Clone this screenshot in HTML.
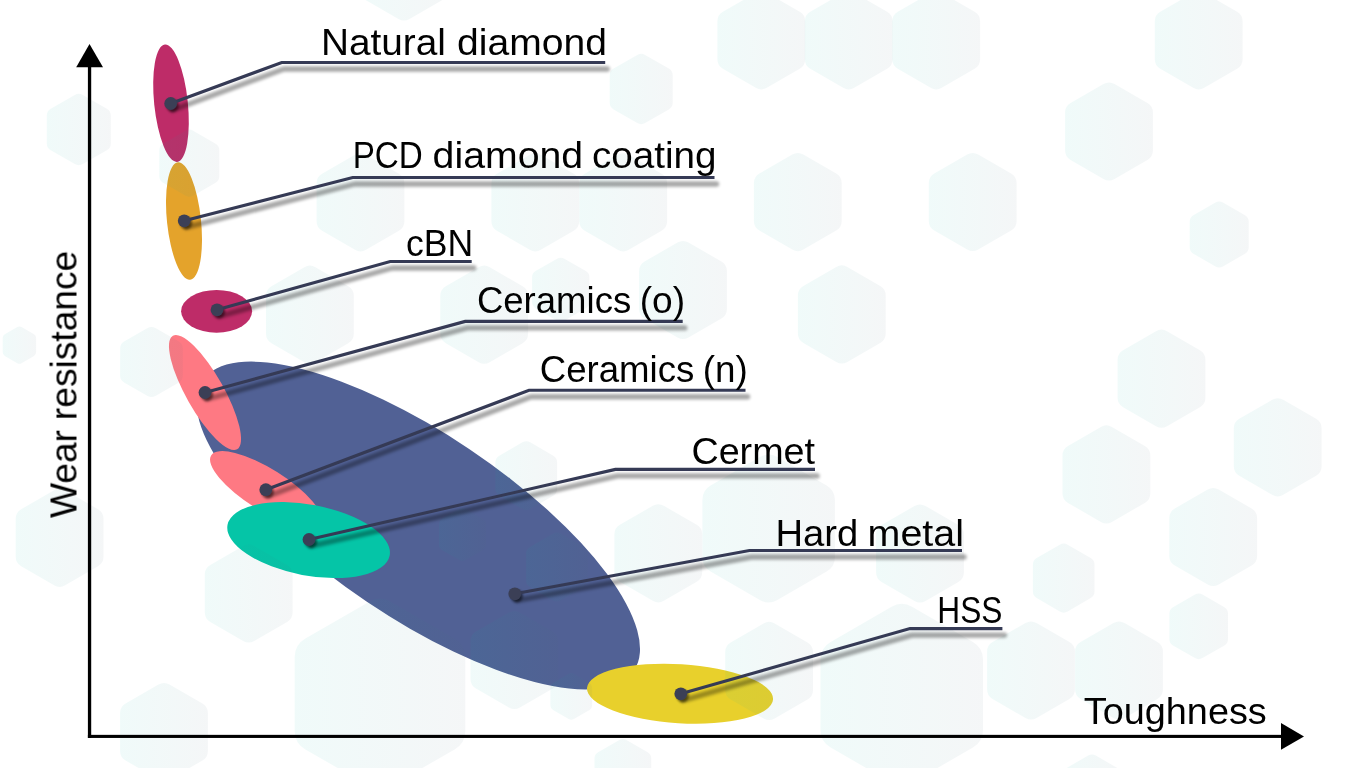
<!DOCTYPE html>
<html lang="en"><head><meta charset="utf-8"><title>Cutting materials: wear resistance vs toughness</title>
<style>html,body{margin:0;padding:0;background:#fff;overflow:hidden}svg{display:block}text{font-family:"Liberation Sans", sans-serif;font-size:36.3px;fill:#000}</style>
</head><body>
<svg width="1366" height="768" viewBox="0 0 1366 768">
<defs>
<linearGradient id="hg" x1="0" y1="0" x2="1" y2="0"><stop offset="0" stop-color="#00b4a5"/><stop offset="1" stop-color="#4c6a79"/></linearGradient>
<filter id="b1" x="-5%" y="-5%" width="110%" height="110%"><feGaussianBlur stdDeviation="1.4"/></filter>
<filter id="b2" x="-5%" y="-5%" width="110%" height="110%"><feGaussianBlur stdDeviation="1"/></filter>
</defs>
<rect width="1366" height="768" fill="#ffffff"/>
<g id="ellipses">
<ellipse cx="171" cy="103.2" rx="16.8" ry="59" fill="#be2c68" transform="rotate(-6 171 103.2)"/>
<ellipse cx="184" cy="221" rx="17" ry="59" fill="#e4a32b" transform="rotate(-6 184 221)"/>
<ellipse cx="216.6" cy="311.3" rx="35.5" ry="21.4" fill="#be2c68" transform="rotate(0 216.6 311.3)"/>
<ellipse cx="418.2" cy="525.5" rx="260" ry="92" fill="#516195" transform="rotate(33.9 418.2 525.5)"/>
<ellipse cx="205" cy="392.5" rx="65.2" ry="18.8" fill="#fe7983" transform="rotate(60.5 205 392.5)"/>
<ellipse cx="266" cy="489.7" rx="64.7" ry="20.9" fill="#fe7983" transform="rotate(32 266 489.7)"/>
<ellipse cx="308.6" cy="540.1" rx="82.5" ry="35.4" fill="#05c5a7" transform="rotate(10.7 308.6 540.1)"/>
<ellipse cx="680" cy="693.7" rx="93.2" ry="29.5" fill="#e8d02c" transform="rotate(3.5 680 693.7)"/>
</g>
<g id="hexes" fill="url(#hg)" fill-opacity="0.058">
<path d="M755.8 -7.2A11.0 11.0 0 0 1 766.8 -7.2L799.7 11.8A11.0 11.0 0 0 1 805.2 21.3L805.2 59.3A11.0 11.0 0 0 1 799.7 68.8L766.8 87.8A11.0 11.0 0 0 1 755.8 87.8L722.9 68.8A11.0 11.0 0 0 1 717.4 59.3L717.4 21.3A11.0 11.0 0 0 1 722.9 11.8Z"/>
<path d="M843.2 -7.2A11.0 11.0 0 0 1 854.2 -7.2L887.1 11.8A11.0 11.0 0 0 1 892.6 21.3L892.6 59.3A11.0 11.0 0 0 1 887.1 68.8L854.2 87.8A11.0 11.0 0 0 1 843.2 87.8L810.3 68.8A11.0 11.0 0 0 1 804.8 59.3L804.8 21.3A11.0 11.0 0 0 1 810.3 11.8Z"/>
<path d="M930.7 -7.2A11.0 11.0 0 0 1 941.7 -7.2L974.6 11.8A11.0 11.0 0 0 1 980.1 21.3L980.1 59.3A11.0 11.0 0 0 1 974.6 68.8L941.7 87.8A11.0 11.0 0 0 1 930.7 87.8L897.8 68.8A11.0 11.0 0 0 1 892.3 59.3L892.3 21.3A11.0 11.0 0 0 1 897.8 11.8Z"/>
<path d="M1193.2 -7.2A11.0 11.0 0 0 1 1204.2 -7.2L1237.1 11.8A11.0 11.0 0 0 1 1242.6 21.3L1242.6 59.3A11.0 11.0 0 0 1 1237.1 68.8L1204.2 87.8A11.0 11.0 0 0 1 1193.2 87.8L1160.3 68.8A11.0 11.0 0 0 1 1154.8 59.3L1154.8 21.3A11.0 11.0 0 0 1 1160.3 11.8Z"/>
<path d="M1103.5 84.0A11.0 11.0 0 0 1 1114.5 84.0L1147.4 103.0A11.0 11.0 0 0 1 1152.9 112.5L1152.9 150.5A11.0 11.0 0 0 1 1147.4 160.0L1114.5 179.0A11.0 11.0 0 0 1 1103.5 179.0L1070.6 160.0A11.0 11.0 0 0 1 1065.1 150.5L1065.1 112.5A11.0 11.0 0 0 1 1070.6 103.0Z"/>
<path d="M792.3 154.6A11.0 11.0 0 0 1 803.3 154.6L836.2 173.6A11.0 11.0 0 0 1 841.7 183.1L841.7 221.1A11.0 11.0 0 0 1 836.2 230.6L803.3 249.6A11.0 11.0 0 0 1 792.3 249.6L759.4 230.6A11.0 11.0 0 0 1 753.9 221.1L753.9 183.1A11.0 11.0 0 0 1 759.4 173.6Z"/>
<path d="M967.2 154.5A11.0 11.0 0 0 1 978.2 154.5L1011.1 173.5A11.0 11.0 0 0 1 1016.6 183.0L1016.6 221.0A11.0 11.0 0 0 1 1011.1 230.5L978.2 249.5A11.0 11.0 0 0 1 967.2 249.5L934.3 230.5A11.0 11.0 0 0 1 928.8 221.0L928.8 183.0A11.0 11.0 0 0 1 934.3 173.5Z"/>
<path d="M1215.5 202.6A7.4 7.4 0 0 1 1222.9 202.6L1245.0 215.3A7.4 7.4 0 0 1 1248.7 221.7L1248.7 247.3A7.4 7.4 0 0 1 1245.0 253.7L1222.9 266.4A7.4 7.4 0 0 1 1215.5 266.4L1193.4 253.7A7.4 7.4 0 0 1 1189.7 247.3L1189.7 221.7A7.4 7.4 0 0 1 1193.4 215.3Z"/>
<path d="M836.3 266.9A11.0 11.0 0 0 1 847.3 266.9L880.2 285.9A11.0 11.0 0 0 1 885.7 295.4L885.7 333.4A11.0 11.0 0 0 1 880.2 342.9L847.3 361.9A11.0 11.0 0 0 1 836.3 361.9L803.4 342.9A11.0 11.0 0 0 1 797.9 333.4L797.9 295.4A11.0 11.0 0 0 1 803.4 285.9Z"/>
<path d="M677.5 242.5A11.0 11.0 0 0 1 688.5 242.5L721.4 261.5A11.0 11.0 0 0 1 726.9 271.0L726.9 309.0A11.0 11.0 0 0 1 721.4 318.5L688.5 337.5A11.0 11.0 0 0 1 677.5 337.5L644.6 318.5A11.0 11.0 0 0 1 639.1 309.0L639.1 271.0A11.0 11.0 0 0 1 644.6 261.5Z"/>
<path d="M1156.0 331.2A11.0 11.0 0 0 1 1167.0 331.2L1199.9 350.2A11.0 11.0 0 0 1 1205.4 359.7L1205.4 397.7A11.0 11.0 0 0 1 1199.9 407.2L1167.0 426.2A11.0 11.0 0 0 1 1156.0 426.2L1123.1 407.2A11.0 11.0 0 0 1 1117.6 397.7L1117.6 359.7A11.0 11.0 0 0 1 1123.1 350.2Z"/>
<path d="M74.8 94.9A8.0 8.0 0 0 1 82.8 94.9L106.8 108.7A8.0 8.0 0 0 1 110.8 115.6L110.8 143.4A8.0 8.0 0 0 1 106.8 150.3L82.8 164.1A8.0 8.0 0 0 1 74.8 164.1L50.8 150.3A8.0 8.0 0 0 1 46.8 143.4L46.8 115.6A8.0 8.0 0 0 1 50.8 108.7Z"/>
<path d="M185.6 130.7A7.5 7.5 0 0 1 193.1 130.7L215.6 143.7A7.5 7.5 0 0 1 219.3 150.2L219.3 176.2A7.5 7.5 0 0 1 215.6 182.7L193.1 195.7A7.5 7.5 0 0 1 185.6 195.7L163.1 182.7A7.5 7.5 0 0 1 159.3 176.2L159.3 150.2A7.5 7.5 0 0 1 163.1 143.7Z"/>
<path d="M355.0 154.8A11.0 11.0 0 0 1 366.0 154.8L398.9 173.8A11.0 11.0 0 0 1 404.4 183.3L404.4 221.3A11.0 11.0 0 0 1 398.9 230.8L366.0 249.8A11.0 11.0 0 0 1 355.0 249.8L322.1 230.8A11.0 11.0 0 0 1 316.6 221.3L316.6 183.3A11.0 11.0 0 0 1 322.1 173.8Z"/>
<path d="M398.5 -76.0A11.0 11.0 0 0 1 409.5 -76.0L442.4 -57.0A11.0 11.0 0 0 1 447.9 -47.5L447.9 -9.5A11.0 11.0 0 0 1 442.4 0.0L409.5 19.0A11.0 11.0 0 0 1 398.5 19.0L365.6 0.0A11.0 11.0 0 0 1 360.1 -9.5L360.1 -47.5A11.0 11.0 0 0 1 365.6 -57.0Z"/>
<path d="M637.3 54.9A7.9 7.9 0 0 1 645.1 54.9L668.8 68.5A7.9 7.9 0 0 1 672.7 75.4L672.7 102.6A7.9 7.9 0 0 1 668.8 109.5L645.1 123.1A7.9 7.9 0 0 1 637.3 123.1L613.6 109.5A7.9 7.9 0 0 1 609.7 102.6L609.7 75.4A7.9 7.9 0 0 1 613.6 68.5Z"/>
<path d="M529.8 154.8A11.0 11.0 0 0 1 540.8 154.8L573.7 173.8A11.0 11.0 0 0 1 579.2 183.3L579.2 221.3A11.0 11.0 0 0 1 573.7 230.8L540.8 249.8A11.0 11.0 0 0 1 529.8 249.8L496.9 230.8A11.0 11.0 0 0 1 491.4 221.3L491.4 183.3A11.0 11.0 0 0 1 496.9 173.8Z"/>
<path d="M617.7 154.8A11.0 11.0 0 0 1 628.7 154.8L661.6 173.8A11.0 11.0 0 0 1 667.1 183.3L667.1 221.3A11.0 11.0 0 0 1 661.6 230.8L628.7 249.8A11.0 11.0 0 0 1 617.7 249.8L584.8 230.8A11.0 11.0 0 0 1 579.3 221.3L579.3 183.3A11.0 11.0 0 0 1 584.8 173.8Z"/>
<path d="M17.3 327.0A4.2 4.2 0 0 1 21.5 327.0L34.0 334.3A4.2 4.2 0 0 1 36.1 337.9L36.1 352.3A4.2 4.2 0 0 1 34.0 355.9L21.5 363.2A4.2 4.2 0 0 1 17.3 363.2L4.8 355.9A4.2 4.2 0 0 1 2.7 352.3L2.7 337.9A4.2 4.2 0 0 1 4.8 334.3Z"/>
<path d="M147.6 328.1A7.8 7.8 0 0 1 155.4 328.1L178.9 341.6A7.8 7.8 0 0 1 182.8 348.4L182.8 375.6A7.8 7.8 0 0 1 178.9 382.4L155.4 395.9A7.8 7.8 0 0 1 147.6 395.9L124.1 382.4A7.8 7.8 0 0 1 120.1 375.6L120.2 348.4A7.8 7.8 0 0 1 124.1 341.6Z"/>
<path d="M304.4 267.2A11.0 11.0 0 0 1 315.4 267.2L348.3 286.2A11.0 11.0 0 0 1 353.8 295.7L353.8 333.7A11.0 11.0 0 0 1 348.3 343.2L315.4 362.2A11.0 11.0 0 0 1 304.4 362.2L271.5 343.2A11.0 11.0 0 0 1 266.0 333.7L266.0 295.7A11.0 11.0 0 0 1 271.5 286.2Z"/>
<path d="M478.7 267.2A11.0 11.0 0 0 1 489.7 267.2L522.6 286.2A11.0 11.0 0 0 1 528.1 295.7L528.1 333.7A11.0 11.0 0 0 1 522.6 343.2L489.7 362.2A11.0 11.0 0 0 1 478.7 362.2L445.8 343.2A11.0 11.0 0 0 1 440.3 333.7L440.3 295.7A11.0 11.0 0 0 1 445.8 286.2Z"/>
<path d="M54.1 490.3A11.0 11.0 0 0 1 65.1 490.3L98.0 509.3A11.0 11.0 0 0 1 103.5 518.8L103.5 556.8A11.0 11.0 0 0 1 98.0 566.3L65.1 585.3A11.0 11.0 0 0 1 54.1 585.3L21.2 566.3A11.0 11.0 0 0 1 15.7 556.8L15.7 518.8A11.0 11.0 0 0 1 21.2 509.3Z"/>
<path d="M557.1 258.7A7.2 7.2 0 0 1 564.3 258.7L585.8 271.1A7.2 7.2 0 0 1 589.4 277.3L589.4 302.1A7.2 7.2 0 0 1 585.8 308.3L564.3 320.7A7.2 7.2 0 0 1 557.1 320.7L535.6 308.3A7.2 7.2 0 0 1 532.1 302.1L532.1 277.3A7.2 7.2 0 0 1 535.6 271.1Z"/>
<path d="M522.4 442.3A7.7 7.7 0 0 1 530.2 442.3L553.3 455.7A7.7 7.7 0 0 1 557.1 462.3L557.1 489.1A7.7 7.7 0 0 1 553.3 495.7L530.2 509.1A7.7 7.7 0 0 1 522.4 509.1L499.3 495.7A7.7 7.7 0 0 1 495.4 489.1L495.4 462.3A7.7 7.7 0 0 1 499.3 455.7Z"/>
<path d="M760.3 456.8A16.6 16.6 0 0 1 776.9 456.8L826.6 485.5A16.6 16.6 0 0 1 834.9 499.8L834.9 557.2A16.6 16.6 0 0 1 826.6 571.5L776.9 600.2A16.6 16.6 0 0 1 760.3 600.2L710.6 571.5A16.6 16.6 0 0 1 702.4 557.2L702.4 499.8A16.6 16.6 0 0 1 710.6 485.5Z"/>
<path d="M1100.9 426.9A11.0 11.0 0 0 1 1111.9 426.9L1144.8 445.9A11.0 11.0 0 0 1 1150.3 455.4L1150.3 493.4A11.0 11.0 0 0 1 1144.8 502.9L1111.9 521.9A11.0 11.0 0 0 1 1100.9 521.9L1068.0 502.9A11.0 11.0 0 0 1 1062.5 493.4L1062.5 455.4A11.0 11.0 0 0 1 1068.0 445.9Z"/>
<path d="M1272.2 399.8A11.0 11.0 0 0 1 1283.2 399.8L1316.1 418.8A11.0 11.0 0 0 1 1321.6 428.3L1321.6 466.3A11.0 11.0 0 0 1 1316.1 475.8L1283.2 494.8A11.0 11.0 0 0 1 1272.2 494.8L1239.3 475.8A11.0 11.0 0 0 1 1233.8 466.3L1233.8 428.3A11.0 11.0 0 0 1 1239.3 418.8Z"/>
<path d="M1207.7 489.5A11.0 11.0 0 0 1 1218.7 489.5L1251.6 508.5A11.0 11.0 0 0 1 1257.1 518.0L1257.1 556.0A11.0 11.0 0 0 1 1251.6 565.5L1218.7 584.5A11.0 11.0 0 0 1 1207.7 584.5L1174.8 565.5A11.0 11.0 0 0 1 1169.3 556.0L1169.3 518.0A11.0 11.0 0 0 1 1174.8 508.5Z"/>
<path d="M914.5 506.0A11.0 11.0 0 0 1 925.5 506.0L958.4 525.0A11.0 11.0 0 0 1 963.9 534.5L963.9 572.5A11.0 11.0 0 0 1 958.4 582.0L925.5 601.0A11.0 11.0 0 0 1 914.5 601.0L881.6 582.0A11.0 11.0 0 0 1 876.1 572.5L876.1 534.5A11.0 11.0 0 0 1 881.6 525.0Z"/>
<path d="M243.2 545.9A11.0 11.0 0 0 1 254.2 545.9L287.1 564.9A11.0 11.0 0 0 1 292.6 574.4L292.6 612.4A11.0 11.0 0 0 1 287.1 621.9L254.2 640.9A11.0 11.0 0 0 1 243.2 640.9L210.3 621.9A11.0 11.0 0 0 1 204.8 612.4L204.8 574.4A11.0 11.0 0 0 1 210.3 564.9Z"/>
<path d="M158.5 684.5A11.0 11.0 0 0 1 169.5 684.5L202.4 703.5A11.0 11.0 0 0 1 207.9 713.0L207.9 751.0A11.0 11.0 0 0 1 202.4 760.5L169.5 779.5A11.0 11.0 0 0 1 158.5 779.5L125.6 760.5A11.0 11.0 0 0 1 120.1 751.0L120.1 713.0A11.0 11.0 0 0 1 125.6 703.5Z"/>
<path d="M369.3 601.7A21.3 21.3 0 0 1 390.7 601.7L454.6 638.6A21.3 21.3 0 0 1 465.3 657.1L465.3 730.9A21.3 21.3 0 0 1 454.6 749.4L390.7 786.3A21.3 21.3 0 0 1 369.3 786.3L305.4 749.4A21.3 21.3 0 0 1 294.7 730.9L294.7 657.1A21.3 21.3 0 0 1 305.4 638.6Z"/>
<path d="M652.8 505.8A11.0 11.0 0 0 1 663.8 505.8L696.7 524.8A11.0 11.0 0 0 1 702.2 534.3L702.2 572.3A11.0 11.0 0 0 1 696.7 581.8L663.8 600.8A11.0 11.0 0 0 1 652.8 600.8L619.9 581.8A11.0 11.0 0 0 1 614.4 572.3L614.4 534.3A11.0 11.0 0 0 1 619.9 524.8Z"/>
<path d="M508.9 612.5A11.0 11.0 0 0 1 519.9 612.5L552.8 631.5A11.0 11.0 0 0 1 558.3 641.0L558.3 679.0A11.0 11.0 0 0 1 552.8 688.5L519.9 707.5A11.0 11.0 0 0 1 508.9 707.5L476.0 688.5A11.0 11.0 0 0 1 470.5 679.0L470.5 641.0A11.0 11.0 0 0 1 476.0 631.5Z"/>
<path d="M568.7 673.8A5.2 5.2 0 0 1 573.9 673.8L589.5 682.9A5.2 5.2 0 0 1 592.1 687.4L592.1 705.4A5.2 5.2 0 0 1 589.5 709.9L573.9 719.0A5.2 5.2 0 0 1 568.7 719.0L553.1 709.9A5.2 5.2 0 0 1 550.4 705.4L550.4 687.4A5.2 5.2 0 0 1 553.1 682.9Z"/>
<path d="M763.6 623.4A11.0 11.0 0 0 1 774.6 623.4L807.5 642.4A11.0 11.0 0 0 1 813.0 651.9L813.0 689.9A11.0 11.0 0 0 1 807.5 699.4L774.6 718.4A11.0 11.0 0 0 1 763.6 718.4L730.7 699.4A11.0 11.0 0 0 1 725.2 689.9L725.2 651.9A11.0 11.0 0 0 1 730.7 642.4Z"/>
<path d="M891.6 606.7A20.3 20.3 0 0 1 912.0 606.7L972.9 641.9A20.3 20.3 0 0 1 983.0 659.5L983.0 729.9A20.3 20.3 0 0 1 972.9 747.5L912.0 782.7A20.3 20.3 0 0 1 891.6 782.7L830.7 747.5A20.3 20.3 0 0 1 820.5 729.9L820.5 659.5A20.3 20.3 0 0 1 830.7 641.9Z"/>
<path d="M619.4 740.0A7.1 7.1 0 0 1 626.4 740.0L647.7 752.3A7.1 7.1 0 0 1 651.2 758.4L651.2 783.0A7.1 7.1 0 0 1 647.7 789.1L626.4 801.4A7.1 7.1 0 0 1 619.4 801.4L598.1 789.1A7.1 7.1 0 0 1 594.5 783.0L594.5 758.4A7.1 7.1 0 0 1 598.1 752.3Z"/>
<path d="M1059.8 544.7A7.7 7.7 0 0 1 1067.6 544.7L1090.7 558.1A7.7 7.7 0 0 1 1094.5 564.7L1094.5 591.5A7.7 7.7 0 0 1 1090.7 598.1L1067.6 611.5A7.7 7.7 0 0 1 1059.8 611.5L1036.7 598.1A7.7 7.7 0 0 1 1032.9 591.5L1032.9 564.7A7.7 7.7 0 0 1 1036.7 558.1Z"/>
<path d="M1195.0 594.5A7.3 7.3 0 0 1 1202.4 594.5L1224.4 607.2A7.3 7.3 0 0 1 1228.0 613.6L1228.0 639.0A7.3 7.3 0 0 1 1224.4 645.4L1202.4 658.1A7.3 7.3 0 0 1 1195.0 658.1L1173.0 645.4A7.3 7.3 0 0 1 1169.4 639.0L1169.4 613.6A7.3 7.3 0 0 1 1173.0 607.2Z"/>
<path d="M1025.5 623.0A11.0 11.0 0 0 1 1036.5 623.0L1069.4 642.0A11.0 11.0 0 0 1 1074.9 651.5L1074.9 689.5A11.0 11.0 0 0 1 1069.4 699.0L1036.5 718.0A11.0 11.0 0 0 1 1025.5 718.0L992.6 699.0A11.0 11.0 0 0 1 987.1 689.5L987.1 651.5A11.0 11.0 0 0 1 992.6 642.0Z"/>
<path d="M1113.5 623.0A11.0 11.0 0 0 1 1124.5 623.0L1157.4 642.0A11.0 11.0 0 0 1 1162.9 651.5L1162.9 689.5A11.0 11.0 0 0 1 1157.4 699.0L1124.5 718.0A11.0 11.0 0 0 1 1113.5 718.0L1080.6 699.0A11.0 11.0 0 0 1 1075.1 689.5L1075.1 651.5A11.0 11.0 0 0 1 1080.6 642.0Z"/>
<path d="M1088.2 755.5A7.5 7.5 0 0 1 1095.8 755.5L1118.2 768.5A7.5 7.5 0 0 1 1122.0 775.0L1122.0 801.0A7.5 7.5 0 0 1 1118.2 807.5L1095.8 820.5A7.5 7.5 0 0 1 1088.2 820.5L1065.8 807.5A7.5 7.5 0 0 1 1062.0 801.0L1062.0 775.0A7.5 7.5 0 0 1 1065.8 768.5Z"/>
<path d="M553.1 533.6A7.7 7.7 0 0 1 560.9 533.6L584.0 547.0A7.7 7.7 0 0 1 587.9 553.6L587.9 580.4A7.7 7.7 0 0 1 584.0 587.0L560.9 600.4A7.7 7.7 0 0 1 553.1 600.4L530.0 587.0A7.7 7.7 0 0 1 526.1 580.4L526.1 553.6A7.7 7.7 0 0 1 530.0 547.0Z"/>
<path d="M459.5 508.9A5.9 5.9 0 0 1 465.5 508.9L483.2 519.1A5.9 5.9 0 0 1 486.1 524.3L486.1 544.7A5.9 5.9 0 0 1 483.2 549.9L465.5 560.1A5.9 5.9 0 0 1 459.5 560.1L441.8 549.9A5.9 5.9 0 0 1 438.9 544.7L438.9 524.3A5.9 5.9 0 0 1 441.8 519.1Z"/>
</g>
<g id="axes" fill="#000" stroke="none">
<rect x="87.9" y="60" width="3.3" height="677.95"/>
<rect x="87.9" y="734.85" width="1200" height="3.1"/>
<path d="M89.5 44 L76.2 67.2 L103 67.2 Z"/>
<path d="M1304 736.4 L1281 723.1 L1281 749.7 Z"/>
</g>
<g id="lshadow" filter="url(#b1)" opacity="0.34" transform="translate(2 6.5)" fill="none" stroke="#000" stroke-width="5.4" stroke-linejoin="round" stroke-linecap="round">
<path d="M170.7 103.5 L281.7 62.5 L605.2 62.5"/>
<path d="M184.2 220.8 L352.7 177.5 L714.5 177.5"/>
<path d="M217 309.8 L390.2 261.5 L471.7 261.5"/>
<path d="M205 392.5 L465.2 321.4 L682.7 321.4"/>
<path d="M265.8 489.7 L529 390.3 L745.5 390.3"/>
<path d="M309 539.5 L615.4 469.4 L815 469.4"/>
<path d="M514.8 593.8 L749.4 550.5 L962 550.5"/>
<path d="M680.8 693.8 L910 628.6 L1002.4 628.6"/>
</g>
<g id="dshadow" filter="url(#b2)" opacity="0.5" transform="translate(1.8 2)" fill="#000">
<circle cx="170.7" cy="103.5" r="6.4"/>
<circle cx="184.2" cy="220.8" r="6.4"/>
<circle cx="217" cy="309.8" r="6.4"/>
<circle cx="205" cy="392.5" r="6.4"/>
<circle cx="265.8" cy="489.7" r="6.4"/>
<circle cx="309" cy="539.5" r="6.4"/>
<circle cx="514.8" cy="593.8" r="6.4"/>
<circle cx="680.8" cy="693.8" r="6.4"/>
</g>
<g id="leaders" fill="none" stroke="#353a55" stroke-width="3.1" stroke-linejoin="miter">
<path d="M170.7 103.5 L281.7 62.5 L605.2 62.5"/>
<path d="M184.2 220.8 L352.7 177.5 L714.5 177.5"/>
<path d="M217 309.8 L390.2 261.5 L471.7 261.5"/>
<path d="M205 392.5 L465.2 321.4 L682.7 321.4"/>
<path d="M265.8 489.7 L529 390.3 L745.5 390.3"/>
<path d="M309 539.5 L615.4 469.4 L815 469.4"/>
<path d="M514.8 593.8 L749.4 550.5 L962 550.5"/>
<path d="M680.8 693.8 L910 628.6 L1002.4 628.6"/>
</g>
<g id="dots" fill="#3b3f56">
<circle cx="170.7" cy="103.5" r="6.4"/>
<circle cx="184.2" cy="220.8" r="6.4"/>
<circle cx="217" cy="309.8" r="6.4"/>
<circle cx="205" cy="392.5" r="6.4"/>
<circle cx="265.8" cy="489.7" r="6.4"/>
<circle cx="309" cy="539.5" r="6.4"/>
<circle cx="514.8" cy="593.8" r="6.4"/>
<circle cx="680.8" cy="693.8" r="6.4"/>
</g>
<g id="labels" opacity="0.999">
<text y="54.5"><tspan x="320.96" textLength="125.02" lengthAdjust="spacingAndGlyphs">Natural</tspan> <tspan x="457.04" textLength="149.87" lengthAdjust="spacingAndGlyphs">diamond</tspan></text>
<text y="167.8"><tspan x="352.63" textLength="70.15" lengthAdjust="spacingAndGlyphs">PCD</tspan> <tspan x="432.61" textLength="150.48" lengthAdjust="spacingAndGlyphs">diamond</tspan> <tspan x="591.99" textLength="124.54" lengthAdjust="spacingAndGlyphs">coating</tspan></text>
<text y="255.9"><tspan x="406.08" textLength="67.22" lengthAdjust="spacingAndGlyphs">cBN</tspan></text>
<text y="313.4"><tspan x="476.91" textLength="154.28" lengthAdjust="spacingAndGlyphs">Ceramics</tspan> <tspan x="639.70" textLength="45.39" lengthAdjust="spacingAndGlyphs">(o)</tspan></text>
<text y="381.5"><tspan x="539.70" textLength="154.67" lengthAdjust="spacingAndGlyphs">Ceramics</tspan> <tspan x="702.75" textLength="45.04" lengthAdjust="spacingAndGlyphs">(n)</tspan></text>
<text y="464.3"><tspan x="691.41" textLength="123.60" lengthAdjust="spacingAndGlyphs">Cermet</tspan></text>
<text y="546.3"><tspan x="775.49" textLength="82.83" lengthAdjust="spacingAndGlyphs">Hard</tspan> <tspan x="867.60" textLength="96.40" lengthAdjust="spacingAndGlyphs">metal</tspan></text>
<text y="623.2"><tspan x="937.37" textLength="65.11" lengthAdjust="spacingAndGlyphs">HSS</tspan></text>
<text y="723.5"><tspan x="1083.81" textLength="182.96" lengthAdjust="spacingAndGlyphs">Toughness</tspan></text>
<text transform="translate(76.5 517.7) rotate(-90)" y="0"><tspan x="-0.38" textLength="88.13" lengthAdjust="spacingAndGlyphs">Wear</tspan> <tspan x="97.60" textLength="169.46" lengthAdjust="spacingAndGlyphs">resistance</tspan></text>
</g>
</svg>
</body></html>
